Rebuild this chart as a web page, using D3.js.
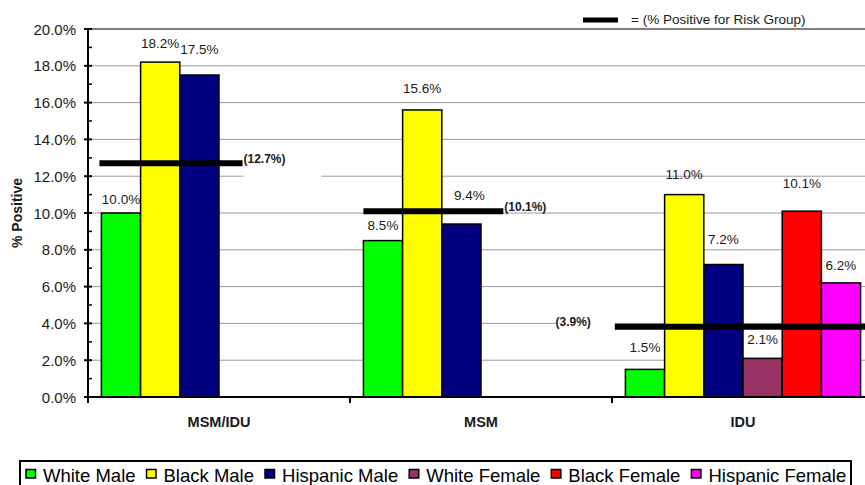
<!DOCTYPE html>
<html>
<head>
<meta charset="utf-8">
<script src="https://cdn.jsdelivr.net/npm/d3@7"></script>
<style>
  html, body { margin: 0; padding: 0; background: #fff; }
  svg { display: block; font-family: "Liberation Sans", Arial, sans-serif; }
</style>
</head>
<body>
<svg id="chart" width="865" height="485"></svg>
<script>
// Risk groups along the x axis
const categories = ["MSM/IDU", "MSM", "IDU"];
// Demographic series (legend order)
const seriesNames = ["White Male", "Black Male", "Hispanic Male", "White Female", "Black Female", "Hispanic Female"];
const seriesColors = ["#00ff00", "#ffff00", "#000080", "#993366", "#ff0000", "#ff00ff"];
// % positive per series, one entry per category (null = no bar)
const whiteMale      = [10.0,  8.5,  1.5];
const blackMale      = [18.2, 15.6, 11.0];
const hispanicMale   = [17.5,  9.4,  7.2];
const whiteFemale    = [null, null,  2.1];
const blackFemale    = [null, null, 10.1];
const hispanicFemale = [null, null,  6.2];
// Overall % positive for each risk group
const riskGroupRate = [12.7, 10.1, 3.9];
// Y axis ticks
const yTicks = [0, 2, 4, 6, 8, 10, 12, 14, 16, 18, 20];

const seriesValues = [whiteMale, blackMale, hispanicMale, whiteFemale, blackFemale, hispanicFemale];

const svg = d3.select("#chart");
const plot = { left: 88, right: 874, top: 29, bottom: 397 };

const x = d3.scaleBand().domain(categories).range([plot.left, plot.right]).padding(0);
const xInner = d3.scaleBand().domain(d3.range(seriesNames.length))
  .range([0, x.bandwidth()]).paddingInner(0).paddingOuter(0.342);
const y = d3.scaleLinear().domain([0, 20]).range([plot.bottom, plot.top]);

// Gridlines
const grid = svg.append("g");
grid.selectAll("line").data(yTicks.filter(d => d > 0)).join("line")
  .attr("x1", plot.left).attr("x2", plot.right)
  .attr("y1", d => y(d)).attr("y2", d => y(d))
  .attr("stroke", d => d === 20 ? "#808080" : "#9a9a9a")
  .attr("stroke-width", d => d === 20 ? 2 : 1);

// Bars
const bars = [];
categories.forEach((c, ci) => {
  seriesValues.forEach((vals, si) => {
    if (vals[ci] != null) bars.push({ cat: c, ci, si, v: vals[ci] });
  });
});

// White label boxes for the risk-group annotations (drawn over the grid)
const boxes = svg.append("g");

svg.append("g").selectAll("rect").data(bars).join("rect")
  .attr("x", d => x(d.cat) + xInner(d.si))
  .attr("y", d => y(d.v))
  .attr("width", xInner.bandwidth())
  .attr("height", d => y(0) - y(d.v))
  .attr("fill", d => seriesColors[d.si])
  .attr("stroke", "#000")
  .attr("stroke-width", 1.5);

// Value labels; hand-placed lift above each bar top (px), per category and series
const labelLift = [
  [14, 19, 26],
  [15, 21, 29],
  [22, 20, 25, 19, 28, 17]
];
const labelShiftX = (d) => (d.ci === 1 && d.si === 2) ? 8 : 0;
svg.append("g").selectAll("text").data(bars).join("text")
  .attr("x", d => x(d.cat) + xInner(d.si) + xInner.bandwidth() / 2 + labelShiftX(d))
  .attr("y", d => y(d.v) - labelLift[d.ci][d.si])
  .attr("text-anchor", "middle")
  .attr("dominant-baseline", "central")
  .attr("font-size", 13.5)
  .attr("fill", "#1a1a1a")
  .text(d => d3.format(".1f")(d.v) + "%");

// Risk-group reference lines, spans given in bar-slot units from the first slot
const slot = xInner.step();
const spans = { "MSM/IDU": [-0.05, 3.6], "MSM": [0.0, 3.57], "IDU": [-0.27, 6.6] };
const riskG = svg.append("g");
categories.forEach((c, ci) => {
  const x0 = x(c) + xInner(0) + spans[c][0] * slot;
  const x1 = Math.min(x(c) + xInner(0) + spans[c][1] * slot, plot.right);
  const yy = y(riskGroupRate[ci]) + (c === "IDU" ? 1.5 : 0);
  riskG.append("line")
    .attr("x1", x0).attr("x2", x1).attr("y1", yy).attr("y2", yy)
    .attr("stroke", "#000").attr("stroke-width", 6);
  const label = "(" + d3.format(".1f")(riskGroupRate[ci]) + "%)";
  if (c === "IDU") {
    boxes.append("rect").attr("x", x0 - 59).attr("y", yy - 14).attr("width", 59).attr("height", 18).attr("fill", "#fff");
    riskG.append("text")
      .attr("x", x0 - 24).attr("y", yy - 5)
      .attr("text-anchor", "end").attr("dominant-baseline", "central")
      .attr("font-size", 12).attr("font-weight", "bold").attr("fill", "#1a1a1a")
      .text(label);
  } else {
    if (c === "MSM/IDU") {
      boxes.append("rect").attr("x", x1 + 1).attr("y", yy - 14).attr("width", 78).attr("height", 30).attr("fill", "#fff");
    }
    riskG.append("text")
      .attr("x", x1 + 1).attr("y", yy - 4)
      .attr("dominant-baseline", "central")
      .attr("font-size", 12).attr("font-weight", "bold").attr("fill", "#1a1a1a")
      .text(label);
  }
});

// Y axis
const yAxis = svg.append("g");
yAxis.append("line").attr("x1", plot.left).attr("x2", plot.left)
  .attr("y1", plot.top - 1).attr("y2", plot.bottom + 6)
  .attr("stroke", "#000").attr("stroke-width", 2);
yAxis.selectAll(".major").data(yTicks).join("line").attr("class", "major")
  .attr("x1", plot.left - 4).attr("x2", plot.left + 4)
  .attr("y1", d => y(d)).attr("y2", d => y(d))
  .attr("stroke", "#000").attr("stroke-width", 2);
yAxis.selectAll(".minor").data(d3.range(1, 20, 2)).join("line").attr("class", "minor")
  .attr("x1", plot.left).attr("x2", plot.left + 4)
  .attr("y1", d => y(d)).attr("y2", d => y(d))
  .attr("stroke", "#000").attr("stroke-width", 1.5);
yAxis.selectAll("text").data(yTicks).join("text")
  .attr("x", 76).attr("y", d => y(d))
  .attr("text-anchor", "end").attr("dominant-baseline", "central")
  .attr("font-size", 15).attr("fill", "#1a1a1a")
  .text(d => d3.format(".1%")(d / 100));

svg.append("text")
  .attr("transform", `translate(17,${(plot.top + plot.bottom) / 2}) rotate(-90)`)
  .attr("text-anchor", "middle").attr("dominant-baseline", "central")
  .attr("font-size", 14).attr("font-weight", "bold").attr("fill", "#1a1a1a")
  .text("% Positive");

// X axis
const xAxis = svg.append("g");
xAxis.append("line").attr("x1", plot.left).attr("x2", plot.right)
  .attr("y1", plot.bottom).attr("y2", plot.bottom)
  .attr("stroke", "#000").attr("stroke-width", 2);
xAxis.selectAll(".tick").data(categories.slice(1)).join("line").attr("class", "tick")
  .attr("x1", d => x(d)).attr("x2", d => x(d))
  .attr("y1", plot.bottom).attr("y2", plot.bottom + 6)
  .attr("stroke", "#000").attr("stroke-width", 2);
xAxis.selectAll("text").data(categories).join("text")
  .attr("x", d => x(d) + x.bandwidth() / 2).attr("y", 421.5)
  .attr("text-anchor", "middle").attr("dominant-baseline", "central")
  .attr("font-size", 14.5).attr("font-weight", "bold").attr("fill", "#1a1a1a")
  .text(d => d);

// Key for the reference line
svg.append("line").attr("x1", 583).attr("x2", 618).attr("y1", 20).attr("y2", 20)
  .attr("stroke", "#000").attr("stroke-width", 5);
svg.append("text").attr("x", 631).attr("y", 19)
  .attr("dominant-baseline", "central").attr("font-size", 13.5).attr("fill", "#1a1a1a")
  .text("= (% Positive for Risk Group)");

// Series legend
const legend = svg.append("g");
legend.append("rect").attr("x", 20).attr("y", 461).attr("width", 831).attr("height", 32)
  .attr("fill", "#fff").attr("stroke", "#000").attr("stroke-width", 2);
let lx = 26;
seriesNames.forEach((name, i) => {
  legend.append("rect").attr("x", lx).attr("y", 469.5).attr("width", 9.5).attr("height", 8.5)
    .attr("fill", seriesColors[i]).attr("stroke", "#000").attr("stroke-width", 1.5);
  const t = legend.append("text").attr("x", lx + 17).attr("y", 475.5)
    .attr("dominant-baseline", "central").attr("font-size", 18.5).attr("fill", "#000")
    .text(name);
  lx += 17 + t.node().getComputedTextLength() + 11;
});
</script>
</body>
</html>
